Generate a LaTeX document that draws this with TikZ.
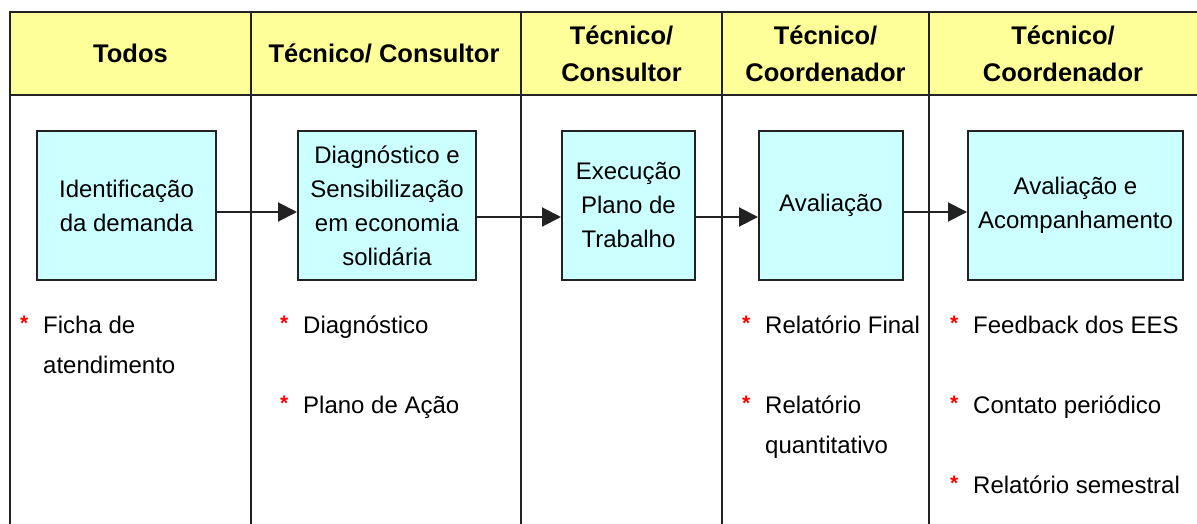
\documentclass[tikz,border=0pt]{standalone}
\usepackage{fontspec}
\setmainfont{Liberation Sans}
\usetikzlibrary{arrows.meta}
\definecolor{hdr}{HTML}{FFFF99}
\definecolor{boxc}{HTML}{CCFFFF}
\definecolor{ln}{HTML}{222222}
\definecolor{starc}{HTML}{FF0000}
\begin{document}
\begin{tikzpicture}[x=1pt,y=-1pt,
 tableline/.style={draw=ln,line width=2pt},
 hdrtext/.style={font=\fontsize{25.5}{37}\selectfont\bfseries,align=center,inner sep=0pt},
 stepbox/.style={draw=ln,line width=2pt,fill=boxc,inner sep=2pt,align=center,font=\fontsize{24}{34}\selectfont,minimum height=149pt},
 item/.style={anchor=base west,inner sep=0pt,font=\fontsize{24}{40}\selectfont},
 starmark/.style={anchor=base west,inner sep=0pt,text=starc,yshift=3pt,font=\fontsize{21}{21}\selectfont\bfseries},
 flow/.style={draw=ln,line width=2pt,-{Triangle[length=19pt,width=19pt]}}
]
\useasboundingbox (0,0) rectangle (1197,524);
% table
\fill[hdr] (10,12) rectangle (1197,95);
\draw[tableline] (1197,12) -- (10,12) -- (10,524);
\draw[tableline] (10,95) -- (1197,95);
\foreach \x in {251,521,722,929} \draw[tableline] (\x,12) -- (\x,524);
% headers
\node[hdrtext] (h1) at (130.5,53.5) {Todos};
\node[hdrtext] (h2) at (384,53.5) {Técnico/ Consultor};
\node[hdrtext] (h3) at (621.5,53.5) {Técnico/\\Consultor};
\node[hdrtext] (h4) at (825.5,53.5) {Técnico/\\Coordenador};
\node[hdrtext] (h5) at (1063,53.5) {Técnico/\\Coordenador};
% boxes
\node[stepbox,minimum width=179pt] (b1) at (126.5,205.5) {Identificação\\da demanda};
\node[stepbox,minimum width=178pt] (b2) at (387,205.5) {Diagnóstico e\\Sensibilização\\em economia\\solidária};
\node[stepbox,minimum width=133pt] (b3) at (628.5,205.5) {Execução\\Plano de\\Trabalho};
\node[stepbox,minimum width=144pt] (b4) at (831,205.5) {Avaliação};
\node[stepbox,minimum width=215pt] (b5) at (1075.5,205.5) {Avaliação e\\Acompanhamento};
% arrows
\draw[flow] ([yshift=-6.5pt]b1.east) -- ([yshift=-6.5pt]b2.west);
\draw[flow] ([yshift=-11.5pt]b2.east) -- ([yshift=-11.5pt]b3.west);
\draw[flow] ([yshift=-11.5pt]b3.east) -- ([yshift=-11.5pt]b4.west);
\draw[flow] ([yshift=-6.5pt]b4.east) -- ([yshift=-6.5pt]b5.west);
% items column 1
\node[starmark] (s1) at (20,333) {*};
\node[item] (t1a) at (43,333) {Ficha de};
\node[item] (t1b) at (43,373) {atendimento};
% column 2
\node[starmark] (s2a) at (280,333) {*};
\node[item] (t2a) at (303,333) {Diagnóstico};
\node[starmark] (s2b) at (280,413) {*};
\node[item] (t2b) at (303,413) {Plano de Ação};
% column 4
\node[starmark] (s4a) at (742,333) {*};
\node[item] (t4a) at (765,333) {Relatório Final};
\node[starmark] (s4b) at (742,413) {*};
\node[item] (t4b) at (765,413) {Relatório};
\node[item] (t4c) at (765,453) {quantitativo};
% column 5
\node[starmark] (s5a) at (950,333) {*};
\node[item] (t5a) at (973,333) {Feedback dos EES};
\node[starmark] (s5b) at (950,413) {*};
\node[item] (t5b) at (973,413) {Contato periódico};
\node[starmark] (s5c) at (950,493) {*};
\node[item] (t5c) at (973,493) {Relatório semestral};
\end{tikzpicture}
\end{document}
